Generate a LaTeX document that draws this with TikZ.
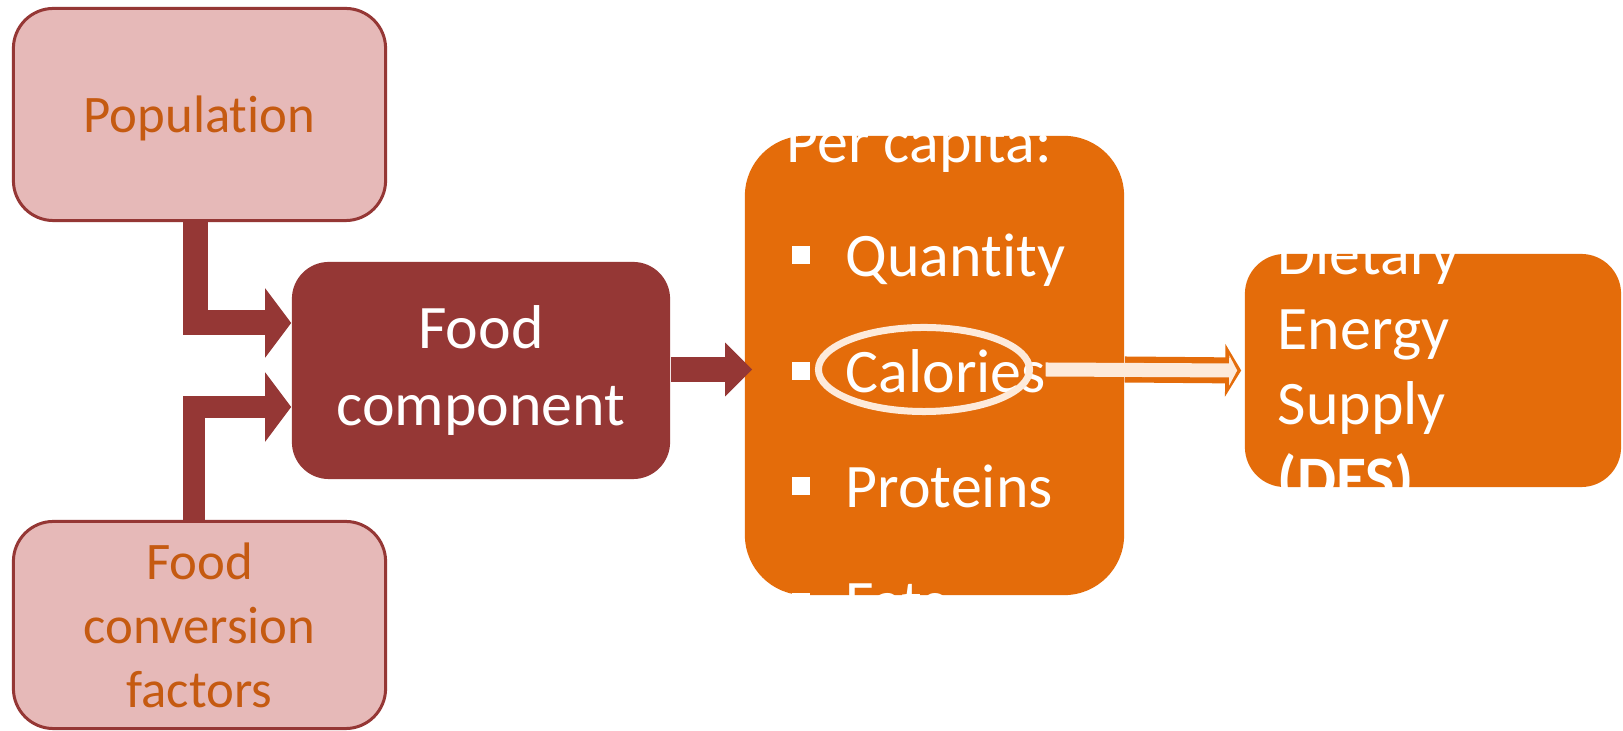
\documentclass[tikz,border=0pt]{standalone}
\usepackage{fontspec}
\setmainfont{Carlito}[Ligatures=NoCommon]
\usetikzlibrary{arrows.meta,shapes.geometric}
\definecolor{pinkfill}{HTML}{E6B9B8}
\definecolor{brickred}{HTML}{953735}
\definecolor{carrot}{HTML}{E46C0A}
\definecolor{peach}{HTML}{FDEADA}
\definecolor{rust}{HTML}{C55A11}

\begin{document}
\begin{tikzpicture}[x=0.01cm,y=-0.01cm,line join=miter,
  inbox/.style={draw=brickred,line width=0.03cm,fill=pinkfill,rounded corners=0.4cm,
    text=rust,align=center,font=\fontsize{15}{18.2}\selectfont},
  block/.style={text=white,align=center,font=\fontsize{17.6}{21.8}\selectfont},
  item/.style={text=white,inner sep=0pt,anchor=base west,font=\fontsize{17.6}{21.6}\selectfont},
  feed/.style={draw=brickred,line width=0.25cm,-{Triangle[length=0.26cm,width=0.68cm]}}]
\fill[white] (0,0) rectangle (1623,731);
\useasboundingbox (0,0) rectangle (1623,731);

% boxes
\node[inbox,text depth=0pt,minimum width=3.72cm,minimum height=2.12cm] (pop) at (199.5,114.5) {Population};
\node[inbox,minimum width=3.72cm,minimum height=2.07cm] (conv) at (199.5,625) {Food\\conversion\\factors};
\node[block,fill=brickred,minimum width=3.78cm,minimum height=2.17cm,rounded corners=0.37cm] (food) at (481,370.5) {Food\\component};
\node[fill=carrot,minimum width=3.79cm,minimum height=4.59cm,rounded corners=0.6cm] (percap) at (934.5,365.5) {};
\node[fill=carrot,minimum width=3.76cm,minimum height=2.33cm,rounded corners=0.4cm] (des) at (1433,370.5) {};

% per capita list
\node[item] (head) at (786,163) {Per capita:};
\foreach \txt/\yb [count=\i] in {Quantity/277,Calories/393,Proteins/508,Fats/624}{
  \fill[white] (792,\yb-31) rectangle +(18,18);
  \node[item] (it\i) at (845,\yb) {\txt};
}

% DES label
\foreach \txt/\yb [count=\i] in {Dietary/275,Energy/350,Supply/425,\textbf{(DES)}/500}
  \node[item] (des\i) at (1277,\yb) {\txt};

% connectors
\draw[feed] ([xshift=-0.04cm,yshift=0.02cm]pop.south) |- ([yshift=0.475cm]food.west);
\draw[feed,line width=0.22cm] ([xshift=-0.055cm,yshift=-0.02cm]conv.north) |- ([yshift=-0.365cm]food.west);
\draw[feed,-{Triangle[length=0.27cm,width=0.52cm]}] ([yshift=0.01cm]food.east) -- ([xshift=0.08cm,yshift=0.01cm]food.east -| percap.west);

% highlight on calories
\node[ellipse,draw=peach,line width=0.07cm,minimum width=2.11cm,minimum height=0.84cm] (cal) at (924,369.5) {};
\draw[carrot,line width=0.26cm,-{Triangle[length=0.16cm,width=0.52cm]}] (percap.east |- cal.east) -- ([xshift=-0.03cm]des.west);
\draw[peach,line width=0.14cm,-{Triangle[length=0.08cm,width=0.3cm]}] ([xshift=0.125cm]cal.east) -- ([xshift=-0.07cm]des.west);
\end{tikzpicture}
\end{document}
